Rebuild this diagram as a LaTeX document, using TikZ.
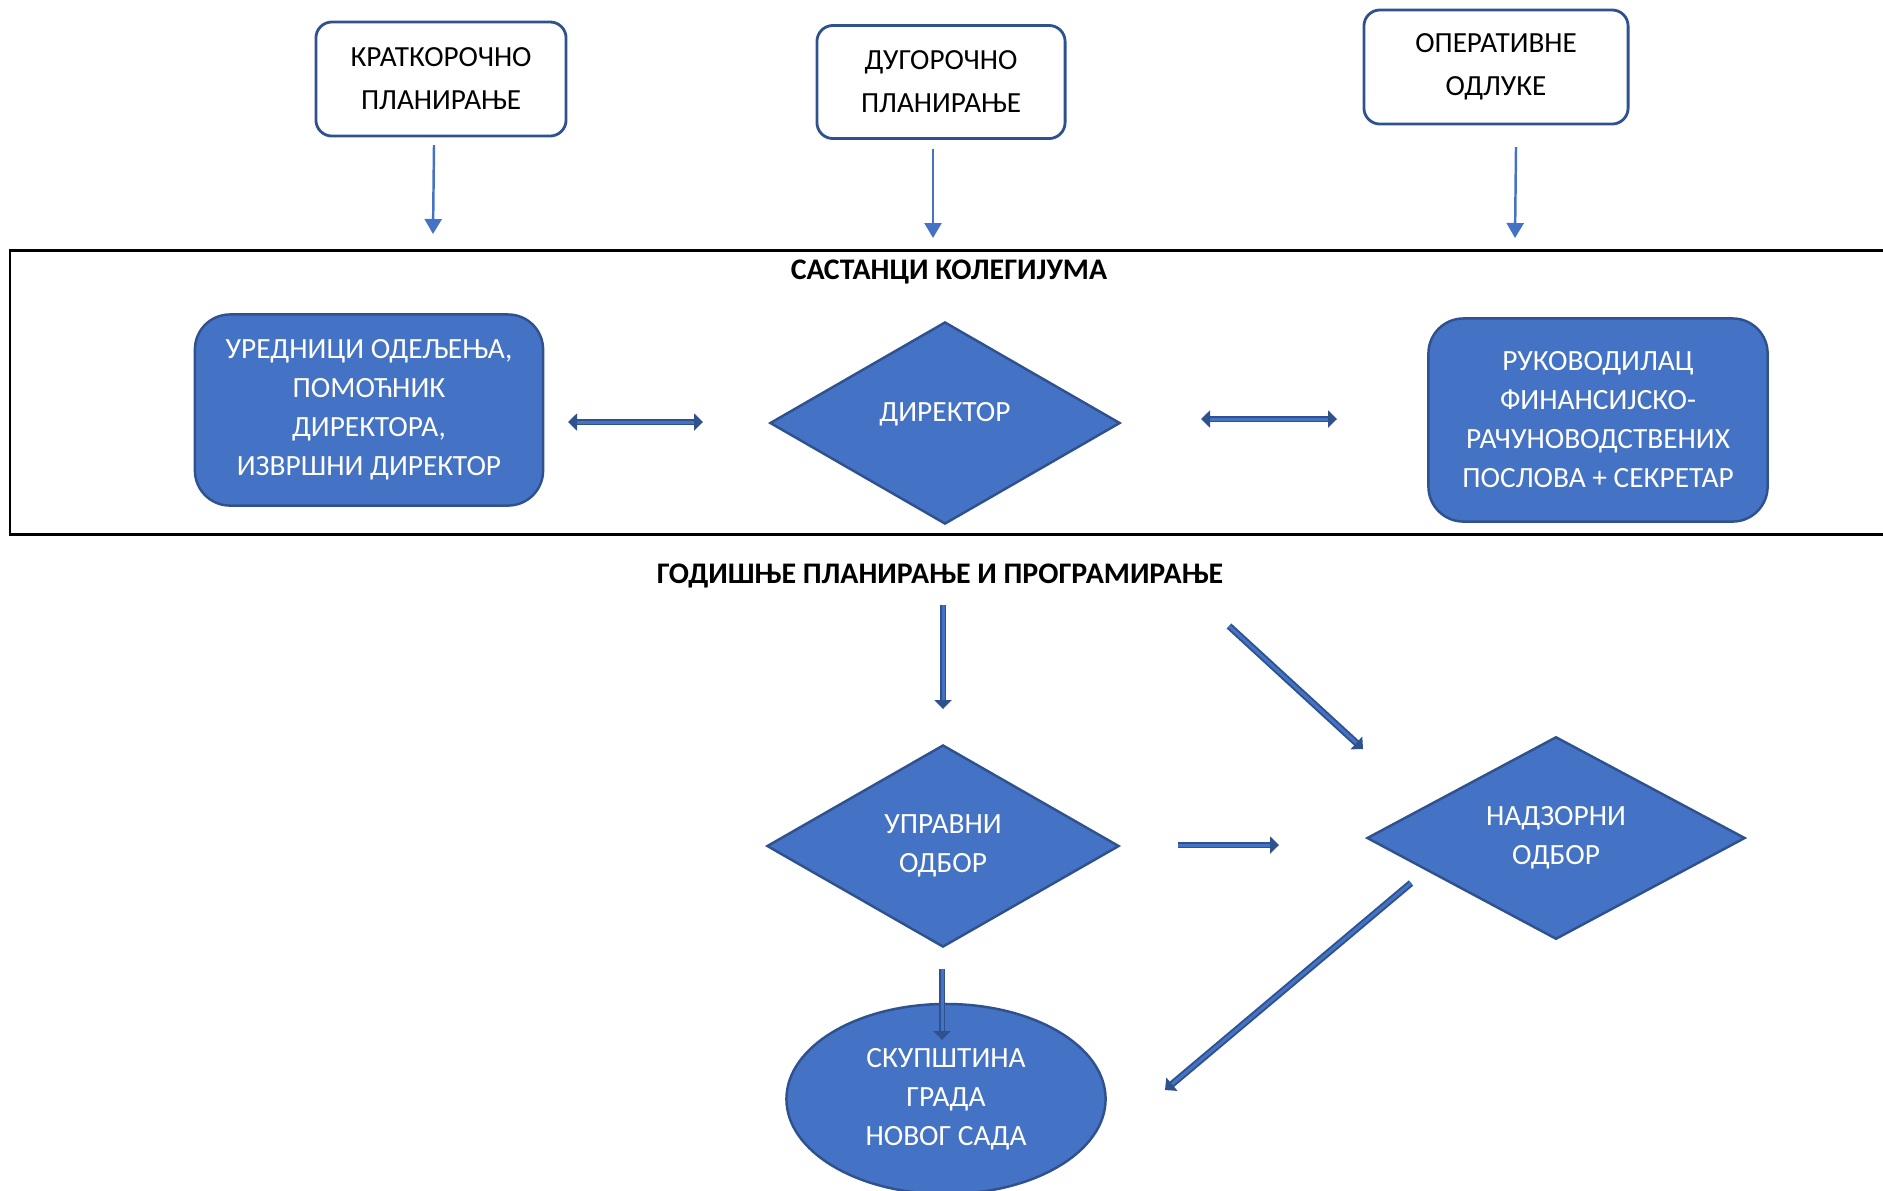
\documentclass[tikz,border=0pt]{standalone}
\usepackage{fontspec}
\setmainfont{Carlito}
\usetikzlibrary{shapes.geometric,arrows.meta,positioning}
\definecolor{boxblue}{HTML}{4472C4}
\definecolor{edgeblue}{HTML}{2F528F}

\begin{document}
\begin{tikzpicture}[
  x=0.01cm, y=-0.01cm,
  font=\fontsize{8.3}{12.2}\selectfont,
  plan/.style = {draw=edgeblue,line width=0.8pt,rounded corners=0.16cm,fill=white,align=center,inner sep=0,minimum width=2.5cm,minimum height=1.14cm},
  bluebox/.style = {draw=edgeblue,line width=0.7pt,fill=boxblue,text=white,align=center,inner sep=0,rounded corners=0.35cm,font=\fontsize{8.35}{11.1}\selectfont},
  bluediam/.style = {bluebox,sharp corners,diamond,minimum width=3.5cm,minimum height=2.02cm},
  heading/.style = {font=\fontsize{8.5}{11}\selectfont\bfseries},
  thinarrow/.style = {draw=boxblue,line width=0.7pt,-{Triangle[length=0.15cm,width=0.17cm]}},
  blockarrow/.style = {draw=edgeblue,double=boxblue,line width=0.55pt,double distance=0.03cm,-{Triangle[length=0.09cm,width=0.17cm]}},
  twoway/.style = {blockarrow,{Triangle[length=0.09cm,width=0.17cm]}-{Triangle[length=0.09cm,width=0.17cm]}}
  ]
	\useasboundingbox (0,0) rectangle (1883,1190);

	% frame of the meetings
	\draw[line width=0.85pt] (1883,250) -| (10,534) -- (1883,534);

	\node[plan] (kratko) at (441,79) {КРАТКОРОЧНО\\ПЛАНИРАЊЕ};
	\node[plan, minimum width=2.48cm, minimum height=1.13cm] (dugo) at (941,82) {ДУГОРОЧНО\\ПЛАНИРАЊЕ};
	\node[plan, minimum width=2.64cm] (operativne) at (1496,67) {ОПЕРАТИВНЕ\\ОДЛУКЕ};

	\node[heading] (kolegijum) at (949,272) {САСТАНЦИ КОЛЕГИЈУМА};
	\node[bluebox, minimum width=3.48cm, minimum height=1.91cm] (urednici) at (369,410) {УРЕДНИЦИ ОДЕЉЕЊА,\\ПОМОЋНИК\\ДИРЕКТОРА,\\ИЗВРШНИ ДИРЕКТОР};
	\node[bluediam, text depth=0.22cm] (direktor) at (945,423) {ДИРЕКТОР};
	\node[bluebox, minimum width=3.39cm, minimum height=2.03cm] (rukovodilac) at (1598,420) {РУКОВОДИЛАЦ\\ФИНАНСИЈСКО-\\РАЧУНОВОДСТВЕНИХ\\ПОСЛОВА + СЕКРЕТАР};

	\node[heading] (godisnje) at (940,576) {ГОДИШЊЕ ПЛАНИРАЊЕ И ПРОГРАМИРАЊЕ};
	\node[bluediam, minimum width=3.52cm] (upravni) at (943,846) {УПРАВНИ\\ОДБОР};
	\node[bluediam, minimum width=3.78cm] (nadzorni) at (1556,838) {НАДЗОРНИ\\ОДБОР};
	\node[bluebox, ellipse, minimum width=3.19cm, minimum height=1.9cm] (skupstina) at (946,1099) {СКУПШТИНА\\ГРАДА\\НОВОГ САДА};

	\coordinate (@k1) at (434,145);
	\coordinate (@k2) at (433,234);
	\coordinate (@d1) at (933,149);
	\coordinate (@d2) at (933,238);
	\coordinate (@o1) at (1516,147);
	\coordinate (@o2) at (1515,238);

	\draw[thinarrow] (@k1) to (@k2);
	\draw[thinarrow] (@d1) to (@d2);
	\draw[thinarrow] (@o1) to (@o2);

	\coordinate (@l1) at (568,422);
	\coordinate (@l2) at (703,422);
	\coordinate (@r1) at (1201,419);
	\coordinate (@r2) at (1337,419);
	\coordinate (@g1) at (943,605);
	\coordinate (@g2) at (943,709);
	\coordinate (@n1) at (1229,626);
	\coordinate (@n2) at (1363,749);
	\coordinate (@u1) at (1178,845);
	\coordinate (@u2) at (1279,845);
	\coordinate (@s1) at (1411,883);
	\coordinate (@s2) at (1165,1090);
	\coordinate (@v1) at (942,969);
	\coordinate (@v2) at (942,1040);

	\draw[twoway] (@l1) to (@l2);
	\draw[twoway] (@r1) to (@r2);
	\draw[blockarrow] (@g1) to (@g2);
	\draw[blockarrow] (@n1) to (@n2);
	\draw[blockarrow] (@u1) to (@u2);
	\draw[blockarrow] (@s1) to (@s2);
	\draw[blockarrow] (@v1) to (@v2);

\end{tikzpicture}
\end{document}
